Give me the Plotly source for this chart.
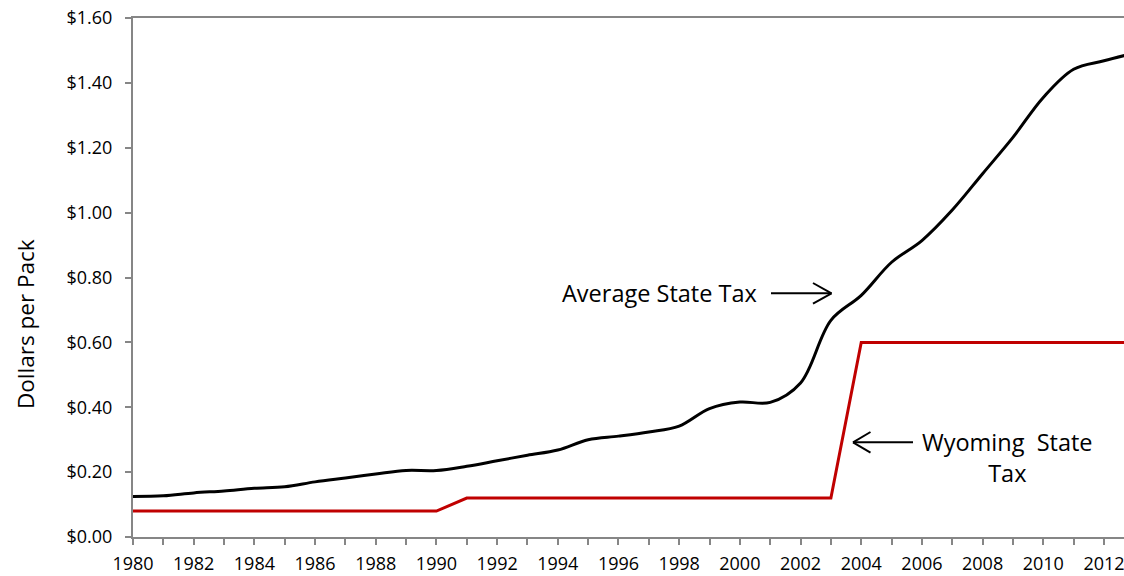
import plotly.graph_objects as go

years = list(range(1980, 2014))
avg_state_tax = [0.125, 0.127, 0.136, 0.142, 0.150, 0.155, 0.170, 0.182, 0.194, 0.205,
                 0.205, 0.218, 0.235, 0.252, 0.268, 0.300, 0.311, 0.324, 0.342, 0.396,
                 0.416, 0.415, 0.475, 0.668, 0.745, 0.847, 0.914, 1.008, 1.120, 1.232,
                 1.355, 1.442, 1.468, 1.492]
wyoming_tax = [0.08] * 11 + [0.12] * 13 + [0.60] * 10

y_ticks = [0, 0.2, 0.4, 0.6, 0.8, 1.0, 1.2, 1.4, 1.6]

W, H = 1124, 576
L, R, T, B = 133, 0, 18, 39
FONT = "Open Sans"


def px_to_paper(x, y):
    return (x - L) / (W - L - R), (H - B - y) / (H - T - B)


fig = go.Figure()
fig.add_trace(go.Scatter(x=years, y=avg_state_tax, mode="lines",
                         line=dict(color="#000000", width=3, shape="spline", smoothing=1.0),
                         name="Average State Tax", hoverinfo="x+y"))
fig.add_trace(go.Scatter(x=years, y=wyoming_tax, mode="lines",
                         line=dict(color="#C00000", width=3),
                         name="Wyoming State Tax", hoverinfo="x+y"))

annotations = []
ax, ay = px_to_paper(659, 293)
annotations.append(dict(x=ax, y=ay, xref="paper", yref="paper", text="Average State Tax",
                        showarrow=False, font=dict(family=FONT, size=23.5, color="#000000"),
                        xanchor="center", yanchor="middle"))
wx, wy = px_to_paper(1007, 457)
annotations.append(dict(x=wx, y=wy, xref="paper", yref="paper",
                        text="Wyoming \u00a0State<br>Tax", align="center",
                        showarrow=False, font=dict(family=FONT, size=23.5, color="#000000"),
                        xanchor="center", yanchor="middle"))
tx, ty = px_to_paper(25, 324)
annotations.append(dict(x=tx, y=ty, xref="paper", yref="paper", text="Dollars per Pack",
                        textangle=-90, showarrow=False,
                        font=dict(family=FONT, size=22.5, color="#000000"),
                        xanchor="center", yanchor="middle"))

shapes = []


def seg(x0, y0, x1, y1):
    a0, b0 = px_to_paper(x0, y0)
    a1, b1 = px_to_paper(x1, y1)
    shapes.append(dict(type="line", xref="paper", yref="paper", x0=a0, y0=b0, x1=a1, y1=b1,
                       line=dict(color="#000000", width=2)))


# right-pointing arrow
seg(771, 293.3, 831.5, 293.3)
seg(813, 283, 831.5, 293.3)
seg(813, 303.6, 831.5, 293.3)
# left-pointing arrow
seg(853, 442.3, 913, 442.3)
seg(870.5, 432, 853, 442.3)
seg(870.5, 452.6, 853, 442.3)

fig.update_layout(
    width=W, height=H,
    margin=dict(l=L, r=R, t=T, b=B, pad=0, autoexpand=False),
    paper_bgcolor="#FFFFFF", plot_bgcolor="#FFFFFF",
    showlegend=False,
    font=dict(family=FONT, color="#000000"),
    annotations=annotations,
    shapes=shapes,
    xaxis=dict(range=[1980, 2012.66], tickmode="linear", tick0=1980, dtick=2,
               automargin=False,
               showgrid=False, zeroline=False,
               showline=True, linecolor="#868686", linewidth=2, mirror=True,
               ticks="outside", ticklen=6, tickcolor="#868686", tickwidth=1.5,
               ticklabeloverflow="allow", ticklabelstandoff=3,
               minor=dict(dtick=1, tick0=1980, ticks="outside", ticklen=6,
                          tickcolor="#868686", tickwidth=1.5, showgrid=False),
               tickfont=dict(family=FONT, size=18, color="#000000")),
    yaxis=dict(range=[0, 1.6], tickmode="array", tickvals=y_ticks,
               ticktext=["${:.2f}".format(v) for v in y_ticks],
               automargin=False,
               showgrid=False, zeroline=False,
               showline=True, linecolor="#868686", linewidth=2,
               ticks="outside", ticklen=6, tickcolor="#868686", tickwidth=1.5,
               ticklabelstandoff=9,
               tickfont=dict(family=FONT, size=18, color="#000000")),
)

fig.write_html("out.html")
